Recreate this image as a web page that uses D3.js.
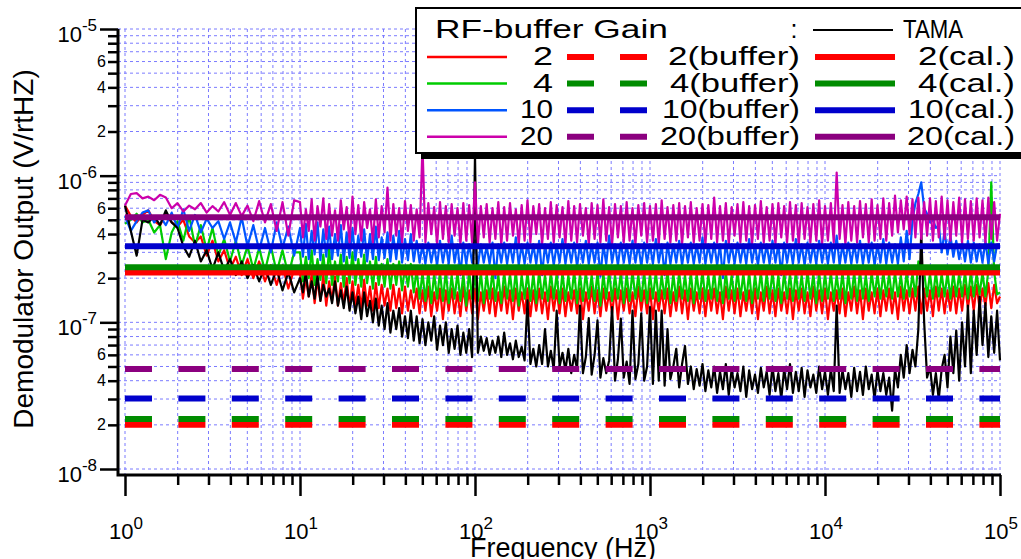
<!DOCTYPE html>
<html>
<head>
<meta charset="utf-8">
<title>RF-buffer gain</title>
<style>
body { margin: 0; background: #fff; }
svg { display: block; font-family: "Liberation Sans", Arial, sans-serif; }
.grid line { stroke: #7b7bff; stroke-width: 1; stroke-dasharray: 3,3; }
.trace { fill: none; stroke-width: 2.2; stroke-linejoin: round; }
.tick line { stroke: #000; stroke-width: 2.5; }
</style>
</head>
<body>
<script src="https://cdn.jsdelivr.net/npm/d3@7"></script>
<script>
// frequency bins: 30 in the first decade, 60 per decade above 10 Hz
var mant30 = [1.000,1.080,1.166,1.259,1.359,1.468,1.585,1.711,1.848,1.995,
  2.154,2.326,2.512,2.712,2.929,3.162,3.415,3.687,3.981,4.299,
  4.642,5.012,5.412,5.843,6.310,6.813,7.356,7.943,8.577,9.261];
var mant60 = [1.000,1.039,1.080,1.122,1.166,1.212,1.259,1.308,1.359,1.413,
  1.468,1.525,1.585,1.647,1.711,1.778,1.848,1.920,1.995,2.073,
  2.154,2.239,2.326,2.418,2.512,2.610,2.712,2.818,2.929,3.043,
  3.162,3.286,3.415,3.548,3.687,3.831,3.981,4.137,4.299,4.467,
  4.642,4.823,5.012,5.208,5.412,5.623,5.843,6.072,6.310,6.556,
  6.813,7.079,7.356,7.644,7.943,8.254,8.577,8.913,9.261,9.624];
var fineDecades = [10, 100, 1000, 10000];
var lastFreq = 100000;

// spectra, in units of 1e-7 V/rtHz
var UNIT = 1e-7;
var gain20 = [6.25,7.5,7.6,7.0,7.2,6.8,7.4,7.1,6.0,6.5,
  5.7,6.25,5.9,6.5,5.6,6.2,5.7,6.6,5.4,6.5,
  5.3,6.25,4.9,6.7,4.8,6.4,4.2,6.6,3.9,6.8,
  6.6,3.8,5.9,4.2,6.9,3.6,6.2,4.5,7.0,3.7,
  6.4,3.9,5.8,3.6,6.8,4.3,6.1,3.5,7.2,4.0,
  6.3,3.6,6.6,4.4,5.9,3.5,6.9,3.8,6.2,4.1,
  8.3,3.6,6.4,3.9,6.0,3.5,6.7,4.2,6.3,3.6,
  5.9,3.8,16,3.5,6.5,4.0,6.1,3.4,6.6,3.7,
  6.2,3.5,6.4,3.9,6.0,3.4,6.5,3.6,6.3,3.5,
  9.0,3.4,6.2,3.8,6.4,3.5,6.0,3.7,6.6,3.4,
  6.1,3.6,6.5,3.9,5.9,3.4,6.3,3.6,6.8,3.5,
  6.2,4.0,6.4,3.4,6.0,3.7,6.6,3.5,6.3,3.8,
  6.1,3.4,6.7,3.6,6.2,3.5,6.4,3.9,6.0,3.4,
  6.5,3.7,6.3,3.5,6.9,3.6,6.1,3.4,6.4,3.8,
  6.2,3.5,6.6,3.6,6.0,3.4,6.3,3.9,6.5,3.5,
  6.2,3.6,6.4,3.4,6.8,3.7,6.1,3.5,6.3,3.6,
  6.5,3.4,6.2,3.8,6.6,3.5,6.0,3.6,6.4,3.4,
  6.3,3.7,7.1,3.5,6.2,3.6,6.5,3.4,6.1,3.9,
  6.4,3.5,6.6,3.6,6.2,3.4,6.3,3.7,6.7,3.5,
  6.1,3.6,6.4,3.4,6.5,3.8,6.2,3.5,6.6,3.6,
  6.3,3.4,6.5,3.7,6.1,3.5,6.4,3.6,6.8,3.4,
  6.2,3.6,6.5,3.5,10.5,3.7,6.3,3.4,6.6,3.6,
  6.2,3.5,6.7,3.8,6.4,3.5,6.9,3.6,6.3,3.7,
  7.0,3.6,6.5,3.9,7.3,4.1,6.8,4.3,7.2,4.0,
  6.9,3.8,7.1,3.7,6.6,3.9,7.0,3.6,6.7,3.8,
  7.2,3.7,6.8,3.6,6.6,3.9,7.1,3.5,6.9,3.7,
  6.7,3.6,7.0,3.8,6.8,3.5,7.1,3.7,6.6,3.6,
  5.5];
var gain10 = [5.3,4.2,4.9,5.6,5.8,4.8,5.3,4.6,5.6,4.4,
  5.9,4.2,5.4,4.1,5.1,4.4,4.9,3.7,4.8,3.5,
  5.2,3.3,4.6,3.1,4.4,3.0,4.8,3.2,4.5,2.85,
  4.4,2.8,4.7,2.7,4.2,2.9,4.8,2.65,4.3,2.8,
  4.5,2.7,4.0,2.85,4.6,2.6,4.1,2.75,4.4,2.65,
  3.9,2.8,4.3,2.6,4.0,2.7,4.5,2.65,3.8,2.75,
  4.1,2.6,3.9,2.7,4.2,2.55,3.7,2.65,4.0,2.6,
  3.6,2.55,3.4,2.5,3.5,2.55,3.3,2.45,3.6,2.55,
  3.4,2.5,3.9,2.55,3.4,2.1,3.5,2.5,3.4,2.55,
  3.6,2.45,3.4,2.55,3.3,2.5,3.5,2.0,3.4,2.55,
  3.5,2.5,3.4,2.55,3.8,2.45,3.4,2.5,3.5,2.55,
  3.4,2.5,3.6,2.1,3.4,2.55,3.5,2.45,3.4,2.55,
  3.7,2.5,3.4,2.55,3.5,2.4,3.4,2.55,3.6,2.5,
  3.4,2.55,3.5,2.05,3.4,2.5,3.9,2.55,3.4,2.45,
  3.5,2.55,3.4,2.5,3.6,2.55,3.4,2.4,3.5,2.55,
  3.4,2.5,3.7,2.55,3.4,2.1,3.5,2.5,3.4,2.55,
  3.6,2.45,3.4,2.55,3.5,2.5,3.4,2.55,3.8,2.5,
  3.4,2.55,3.5,2.45,3.4,2.0,3.6,2.55,3.4,2.5,
  3.5,2.55,3.4,2.5,3.7,2.55,3.4,2.45,3.5,2.55,
  3.4,2.5,3.6,2.55,3.4,2.1,3.5,2.55,3.4,2.5,
  3.7,2.55,3.4,2.45,3.5,2.55,3.4,2.5,3.6,2.55,
  3.4,2.5,3.5,2.55,3.9,2.45,3.4,2.55,3.5,2.5,
  3.4,2.55,3.6,2.5,3.4,2.55,3.5,2.45,3.4,2.55,
  3.7,2.5,3.5,2.55,3.4,2.5,3.8,2.6,4.2,2.7,
  5.0,6.5,7.5,9.0,6.0,5.5,4.8,5.0,4.4,4.6,
  3.0,4.2,2.9,3.9,2.8,3.6,2.7,3.5,2.6,3.6,
  2.55,3.5,2.6,3.4,2.55,3.6,2.5,3.5,2.6,3.4,
  3.4];
var gain4 = [4.7,5.0,5.5,4.8,5.0,4.1,4.6,2.7,4.1,4.9,
  3.6,5.3,3.3,4.6,3.1,4.4,2.85,3.7,2.6,3.6,
  2.45,3.3,2.3,3.2,2.25,3.3,2.2,3.1,2.1,3.0,
  3.0,1.9,2.8,2.0,3.1,1.8,2.7,1.95,2.9,1.85,
  3.2,1.8,2.6,1.9,2.9,1.75,2.8,1.85,3.0,1.8,
  2.7,1.75,2.9,1.85,2.6,1.7,2.8,1.8,2.5,1.75,
  2.7,1.7,2.5,1.8,2.6,1.65,2.4,1.75,2.5,1.6,
  2.3,1.45,2.2,1.4,2.25,1.35,2.15,1.45,2.2,1.4,
  2.25,1.35,2.1,1.45,2.2,1.4,2.15,1.3,2.25,1.45,
  2.1,1.4,2.2,1.35,2.15,1.45,2.25,1.4,2.1,1.35,
  2.2,1.45,2.15,1.4,2.25,1.3,2.1,1.45,2.2,1.4,
  2.15,1.35,2.25,1.45,2.1,1.4,2.2,1.45,2.15,1.35,
  2.2,1.4,2.1,1.45,2.25,1.35,2.15,1.4,2.2,1.45,
  2.1,1.4,2.2,1.3,2.15,1.45,2.25,1.4,2.1,1.45,
  2.2,1.35,2.15,1.4,2.25,1.45,2.1,1.4,2.2,1.35,
  2.15,1.45,2.2,1.4,2.1,1.45,2.25,1.35,2.15,1.4,
  2.2,1.45,2.1,1.4,2.2,1.35,2.15,1.45,2.25,1.4,
  2.1,1.45,2.2,1.4,2.15,1.35,2.2,1.45,2.1,1.4,
  2.25,1.45,2.15,1.4,2.2,1.35,2.1,1.45,2.2,1.4,
  2.15,1.45,2.25,1.4,2.1,1.35,2.2,1.45,2.15,1.4,
  2.2,1.45,2.1,1.4,2.25,1.45,2.15,1.35,2.2,1.4,
  2.15,1.45,2.2,1.4,2.1,1.45,2.2,1.35,2.15,1.45,
  2.2,1.4,2.25,1.45,2.1,1.4,2.2,1.5,2.15,1.45,
  2.2,1.5,2.15,1.45,2.2,1.5,2.1,1.45,2.2,1.5,
  2.15,1.5,2.6,2.5,2.2,1.5,2.15,1.45,2.2,1.5,
  2.15,1.5,2.2,1.45,2.2,1.5,2.15,1.5,2.2,1.45,
  2.2,1.5,2.15,1.55,2.2,1.5,2.25,9.0,2.2,1.55,
  1.6];
var gain2 = [6.25,5.3,4.8,5.4,5.8,4.9,4.6,5.4,4.8,4.5,
  5.0,3.85,3.5,3.85,2.85,3.6,2.6,3.1,2.3,2.8,
  2.1,2.7,2.0,2.6,1.9,2.45,1.8,2.45,1.7,2.3,
  2.2,1.45,2.0,1.5,2.15,1.35,1.95,1.4,2.1,1.3,
  1.9,1.4,2.05,1.3,1.85,1.35,2.0,1.25,1.9,1.3,
  1.8,1.25,1.95,1.3,1.75,1.2,1.85,1.25,1.8,1.3,
  1.7,1.2,1.8,1.25,1.7,1.15,1.75,1.2,1.65,1.25,
  1.7,1.15,1.65,1.2,1.75,1.1,1.6,1.2,1.7,1.05,
  1.65,1.2,1.7,1.15,1.6,1.1,1.75,1.2,1.65,1.15,
  1.7,1.05,1.6,1.2,1.65,1.15,1.7,1.1,1.6,1.2,
  1.75,1.15,1.65,1.05,1.7,1.2,1.6,1.15,1.7,1.1,
  1.65,1.2,1.7,1.15,1.6,1.05,1.75,1.2,1.65,1.15,
  1.7,1.1,1.6,1.2,1.65,1.15,1.7,1.05,1.6,1.2,
  1.75,1.15,1.65,1.1,1.7,1.2,1.6,1.15,1.7,1.05,
  1.65,1.2,1.7,1.15,1.6,1.1,1.75,1.2,1.65,1.15,
  1.7,1.05,1.6,1.2,1.65,1.15,1.7,1.1,1.6,1.2,
  1.75,1.15,1.65,1.05,1.7,1.2,1.6,1.15,1.7,1.1,
  1.65,1.2,1.7,1.15,1.6,1.05,1.75,1.2,1.65,1.15,
  1.7,1.1,1.6,1.2,1.65,1.15,1.7,1.05,1.6,1.2,
  1.75,1.15,1.65,1.1,1.7,1.2,1.6,1.15,1.7,1.05,
  1.65,1.2,1.7,1.15,1.6,1.1,1.75,1.2,1.65,1.15,
  1.7,1.05,1.6,1.2,1.65,1.15,1.7,1.1,1.6,1.2,
  1.75,1.15,1.65,1.05,1.7,1.2,1.6,1.15,1.7,1.1,
  1.65,1.2,1.7,1.15,1.6,1.05,1.75,1.2,1.65,1.15,
  1.7,1.2,1.75,1.15,1.7,1.2,1.65,1.1,1.75,1.2,
  1.7,1.15,1.65,1.2,1.75,1.15,1.7,1.2,1.8,1.25,
  1.75,1.2,1.8,1.25,1.7,1.3,1.85,1.25,1.8,1.35,
  1.5];
var tama = [6.25,4.2,2.85,5.0,4.8,5.3,4.6,5.8,4.8,4.4,
  3.3,2.8,3.6,2.6,3.1,2.3,3.0,2.25,2.7,2.1,
  2.6,2.0,2.45,1.9,2.4,1.8,2.3,1.65,2.2,1.6,
  2.0,1.6,2.2,1.5,1.9,1.45,2.1,1.4,1.8,1.5,
  1.7,1.35,1.9,1.3,1.65,1.25,1.75,1.2,1.6,1.15,
  1.5,1.05,1.6,1.1,1.4,1.0,1.45,0.95,1.3,0.9,
  1.35,0.85,1.2,0.9,1.25,0.8,1.1,0.78,1.2,0.75,
  1.1,0.72,1.05,0.7,1.0,0.75,1.1,0.65,0.95,0.7,
  1.0,0.62,0.9,0.66,0.95,0.6,0.85,0.62,0.9,0.58,
  14,0.62,0.8,0.64,0.78,0.6,0.75,0.62,0.8,0.58,
  0.85,0.6,0.72,0.56,0.75,0.58,0.68,0.55,1.41,0.52,
  0.66,0.5,0.7,0.52,0.9,0.5,0.64,0.48,1.2,0.5,
  0.62,0.47,0.66,0.45,0.6,0.48,1.3,0.45,0.58,1.07,
  0.44,0.6,1.03,0.42,0.57,0.45,0.55,1.27,0.4,0.56,
  1.06,0.42,0.54,0.38,1.2,0.41,0.52,1.15,0.4,0.5,
  1.27,0.38,1.2,0.4,1.2,0.37,0.9,0.41,0.5,0.66,
  0.36,0.52,0.69,0.38,0.5,0.35,0.48,0.37,0.52,0.34,
  0.47,0.36,0.5,0.33,0.46,0.35,0.52,0.32,0.48,0.36,
  0.45,0.34,0.5,0.31,0.47,0.35,0.44,0.33,0.49,0.36,
  0.46,0.32,0.5,0.34,0.45,0.3,0.48,0.35,0.52,0.33,
  0.46,0.34,0.49,0.31,0.47,0.36,0.44,0.33,0.5,0.35,
  0.46,0.32,0.48,0.34,1.3,0.33,0.47,0.35,0.45,0.31,
  0.49,0.34,0.46,0.32,0.5,0.35,0.44,0.3,0.47,0.34,
  0.45,0.32,0.42,0.25,0.48,0.36,0.6,0.42,0.7,0.45,
  0.65,0.5,0.9,4.2,1.0,0.42,0.5,0.32,0.45,0.3,
  0.48,0.6,0.36,0.8,0.45,0.88,0.4,1.0,0.5,1.3,
  0.45,1.2,0.6,1.5,0.7,1.35,0.58,1.1,0.62,1.2,
  0.55];

// flat levels (V/rtHz), order: gain 2, 4, 10, 20
var gains = ["2", "4", "10", "20"];
var calLevels = [2.19e-7, 2.37e-7, 3.3e-7, 5.2e-7];
var bufferLevels = [2.0e-8, 2.19e-8, 3.03e-8, 4.8e-8];

var traceColors = ["#ff0000", "#00cc00", "#0055ff", "#cc00aa"];
var levelColors = ["#ff0000", "#008c00", "#0000cc", "#8b007f"];

var freqs = mant30.slice();
fineDecades.forEach(function(d) {
    mant60.forEach(function(m) { freqs.push(m * d); });
});
freqs.push(lastFreq);

var W = 1021, H = 559;
var svg = d3.select("body").append("svg")
    .attr("width", W)
    .attr("height", H);

var x = d3.scaleLog().domain([1, 1e5]).range([125, 1000]);
var y = d3.scaleLog().domain([1e-8, 1e-5]).range([469, 29]);
var axisX = 118, axisY = 475;

var xMajor = [1, 10, 100, 1000, 10000, 100000];
var xMinor = [];
[1, 10, 100, 1000, 10000].forEach(function(d) {
    for (var k = 2; k <= 9; k++) xMinor.push(k * d);
});
var yMajor = [1e-8, 1e-7, 1e-6, 1e-5];
var yMinor = [];
[1e-8, 1e-7, 1e-6].forEach(function(d) {
    for (var k = 2; k <= 9; k++) yMinor.push(k * d);
});

// grid
var grid = svg.append("g").attr("class", "grid");
grid.selectAll(".gx")
    .data(xMajor.concat(xMinor))
    .enter().append("line")
    .attr("x1", function(d) { return x(d); })
    .attr("x2", function(d) { return x(d); })
    .attr("y1", y(1e-5))
    .attr("y2", axisY);
grid.selectAll(".gy")
    .data(yMajor.concat(yMinor))
    .enter().append("line")
    .attr("x1", axisX)
    .attr("x2", x(1e5))
    .attr("y1", function(d) { return y(d); })
    .attr("y2", function(d) { return y(d); });

// traces
var line = d3.line()
    .x(function(d) { return x(d[0]); })
    .y(function(d) { return y(d[1] * UNIT); });

function pairs(vals) {
    return vals.map(function(v, i) { return [freqs[i], v]; });
}

var traces = [
    { vals: gain2, color: traceColors[0] },
    { vals: gain4, color: traceColors[1] },
    { vals: gain10, color: traceColors[2] },
    { vals: tama, color: "#000" },
    { vals: gain20, color: traceColors[3] }
];
svg.selectAll(".trace")
    .data(traces)
    .enter().append("path")
    .attr("class", "trace")
    .attr("d", function(d) { return line(pairs(d.vals)); })
    .style("stroke", function(d) { return d.color; });

// calibrated and buffer levels
var flat = d3.line()
    .x(function(d) { return x(d[0]); })
    .y(function(d) { return y(d[1]); });

svg.selectAll(".cal")
    .data(calLevels)
    .enter().append("path")
    .attr("d", function(d) { return flat([[1, d], [1e5, d]]); })
    .style("fill", "none")
    .style("stroke-width", 6)
    .style("stroke", function(d, i) { return levelColors[i]; });

svg.selectAll(".buf")
    .data(bufferLevels)
    .enter().append("path")
    .attr("d", function(d) { return flat([[1, d], [1e5, d]]); })
    .style("fill", "none")
    .style("stroke-width", 6)
    .style("stroke-dasharray", "27,26.4")
    .style("stroke", function(d, i) { return levelColors[i]; });

// axes
var yAxisMajor = svg.append("g")
    .attr("transform", "translate(" + axisX + ",0)")
    .call(d3.axisLeft(y).tickValues(yMajor).tickSize(18).tickFormat(""));
var yAxisMinor = svg.append("g")
    .attr("transform", "translate(" + axisX + ",0)")
    .call(d3.axisLeft(y).tickValues(yMinor).tickSize(10).tickPadding(2)
        .tickFormat(function(d) {
            var m = Math.round(d / Math.pow(10, Math.floor(Math.log10(d) + 1e-9)));
            return (m === 2 || m === 4 || m === 6) ? m : "";
        }));
var xAxisMajor = svg.append("g")
    .attr("transform", "translate(0," + axisY + ")")
    .call(d3.axisBottom(x).tickValues(xMajor).tickSize(21).tickFormat(""));
var xAxisMinor = svg.append("g")
    .attr("transform", "translate(0," + axisY + ")")
    .call(d3.axisBottom(x).tickValues(xMinor).tickSize(10).tickFormat(""));

[yAxisMajor, yAxisMinor, xAxisMajor, xAxisMinor].forEach(function(g) {
    g.select(".domain").remove();
    g.attr("font-family", null).attr("font-size", null);
});
yAxisMinor.selectAll("text").style("font-size", "16px").attr("fill", "#000");

svg.append("path")
    .attr("d", "M" + axisX + "," + y(1e-5) + "V" + axisY + "H" + (x(1e5) + 1))
    .style("fill", "none")
    .style("stroke", "#000")
    .style("stroke-width", 3);

// power-of-ten labels
svg.selectAll(".ylab")
    .data(yMajor)
    .enter().append("text")
    .attr("x", 97)
    .attr("y", function(d) { return y(d) + 13; })
    .attr("text-anchor", "end")
    .style("font-size", "22px")
    .each(function(d) {
        var t = d3.select(this);
        t.append("tspan").text("10");
        t.append("tspan").attr("dy", -11).style("font-size", "17px")
            .text(Math.round(Math.log10(d)));
    });

svg.selectAll(".xlab")
    .data(xMajor)
    .enter().append("text")
    .attr("x", function(d) { return x(d) + 1; })
    .attr("y", 539)
    .attr("text-anchor", "middle")
    .style("font-size", "22px")
    .each(function(d) {
        var t = d3.select(this);
        t.append("tspan").text("10");
        t.append("tspan").attr("dy", -10).style("font-size", "17px")
            .text(Math.round(Math.log10(d)));
    });

svg.append("text")
    .attr("transform", "translate(33,249) rotate(-90)")
    .attr("text-anchor", "middle")
    .style("font-size", "28px")
    .text("Demodulator Output (V/rtHZ)");

svg.append("text")
    .attr("x", 563)
    .attr("y", 557)
    .attr("text-anchor", "middle")
    .style("font-size", "27px")
    .text("Frequency (Hz)");

// legend
var lg = svg.append("g");
lg.append("rect")
    .attr("x", 421).attr("y", 14).attr("width", 640).attr("height", 145)
    .style("fill", "#000");
lg.append("rect")
    .attr("x", 416).attr("y", 8).attr("width", 640).attr("height", 145)
    .style("fill", "#fff").style("stroke", "#000").style("stroke-width", 2);

lg.append("text")
    .attr("x", 435).attr("y", 38)
    .attr("textLength", 233).attr("lengthAdjust", "spacingAndGlyphs")
    .style("font-size", "25px")
    .text("RF-buffer Gain");
lg.append("text")
    .attr("x", 794).attr("y", 38).attr("text-anchor", "middle")
    .style("font-size", "25px")
    .text(":");
lg.append("line")
    .attr("x1", 813).attr("x2", 893).attr("y1", 30).attr("y2", 30)
    .style("stroke", "#000").style("stroke-width", 2);
lg.append("text")
    .attr("x", 903).attr("y", 38)
    .attr("textLength", 60).attr("lengthAdjust", "spacingAndGlyphs")
    .style("font-size", "25px")
    .text("TAMA");

var bufW = { "2": 132, "4": 130, "10": 138, "20": 140 };
var calW = { "2": 97, "4": 97, "10": 107, "20": 108 };
var numW = { "2": 20, "4": 20, "10": 33, "20": 33 };

var rows = lg.selectAll(".row")
    .data(gains)
    .enter().append("g")
    .attr("transform", function(d, i) { return "translate(0," + (57 + i * 26.6) + ")"; });

rows.append("line")
    .attr("x1", 427).attr("x2", 507)
    .style("stroke", function(d, i) { return traceColors[i]; })
    .style("stroke-width", 2.5);
rows.append("text")
    .attr("x", 553).attr("y", 8).attr("text-anchor", "end")
    .attr("textLength", function(d) { return numW[d]; })
    .attr("lengthAdjust", "spacingAndGlyphs")
    .style("font-size", "25px")
    .text(function(d) { return d; });
rows.append("line")
    .attr("x1", 567).attr("x2", 647)
    .style("stroke", function(d, i) { return levelColors[i]; })
    .style("stroke-width", 6)
    .style("stroke-dasharray", "27,26");
rows.append("text")
    .attr("x", 800).attr("y", 8).attr("text-anchor", "end")
    .attr("textLength", function(d) { return bufW[d]; })
    .attr("lengthAdjust", "spacingAndGlyphs")
    .style("font-size", "25px")
    .text(function(d) { return d + "(buffer)"; });
rows.append("line")
    .attr("x1", 815).attr("x2", 895)
    .style("stroke", function(d, i) { return levelColors[i]; })
    .style("stroke-width", 6);
rows.append("text")
    .attr("x", 1015).attr("y", 8).attr("text-anchor", "end")
    .attr("textLength", function(d) { return calW[d]; })
    .attr("lengthAdjust", "spacingAndGlyphs")
    .style("font-size", "25px")
    .text(function(d) { return d + "(cal.)"; });
</script>
</body>
</html>
